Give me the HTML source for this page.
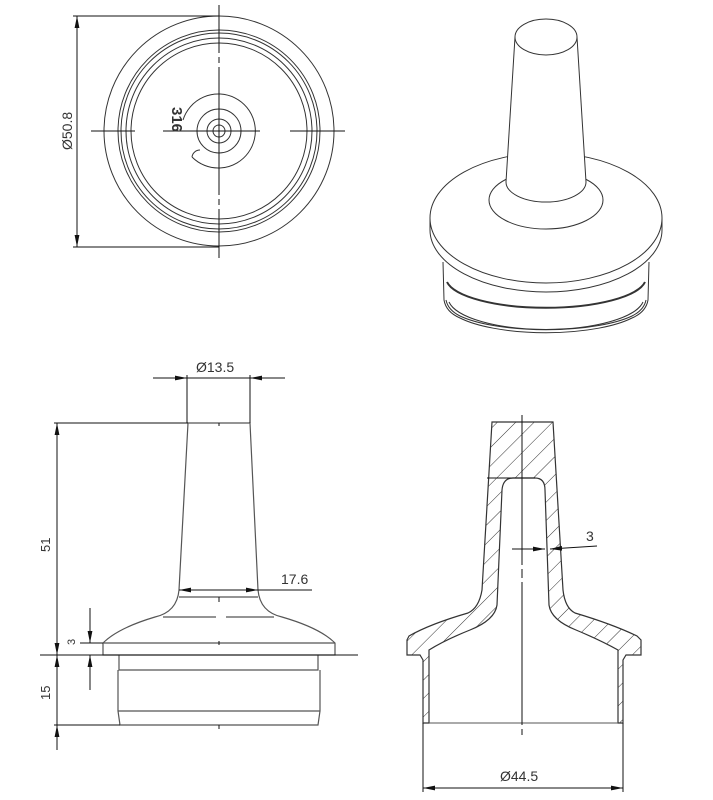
<!DOCTYPE html>
<html><head><meta charset="utf-8"><style>
html,body{margin:0;padding:0;background:#fff;}
svg{display:block;}
text{font-family:"Liberation Sans",sans-serif;fill:#333;}
</style></head><body>
<svg width="713" height="800" viewBox="0 0 713 800" xmlns="http://www.w3.org/2000/svg">
<defs>
<pattern id="h" patternUnits="userSpaceOnUse" width="13" height="13" patternTransform="rotate(45)">
<line x1="0" y1="0" x2="0" y2="13" stroke="#333" stroke-width="1"/>
</pattern>
<marker id="a" viewBox="0 0 10 4" refX="10" refY="2" markerWidth="12" markerHeight="5" orient="auto-start-reverse" markerUnits="userSpaceOnUse"><path d="M0,0 L10,2 L0,4Z" fill="#111"/></marker>
</defs>

<!-- TOP VIEW -->
<g fill="none" stroke="#333" stroke-width="1">
<circle cx="219" cy="131" r="115"/>
<circle cx="219" cy="131" r="101"/>
<circle cx="219" cy="131" r="98"/>
<circle cx="219" cy="131" r="93"/>
<circle cx="219" cy="131" r="88"/>
<path d="M183,120 A37,37 0 1 1 192,157"/>
<path d="M192,157 A8,8 0 0 1 200,150"/>
<circle cx="219" cy="131" r="22"/>
<circle cx="219" cy="131" r="12"/>
<circle cx="219" cy="131" r="6"/>
</g>
<g stroke="#111" stroke-width="1">
<line x1="91" y1="131" x2="135" y2="131"/>
<line x1="163" y1="131" x2="260" y2="131"/>
<line x1="290" y1="131" x2="345" y2="131"/>
<line x1="219" y1="5" x2="219" y2="53"/><line x1="219" y1="57" x2="219" y2="63"/>
<line x1="219" y1="67" x2="219" y2="195"/><line x1="219" y1="199" x2="219" y2="205"/>
<line x1="219" y1="209" x2="219" y2="258"/>
<line x1="73" y1="16" x2="219" y2="16"/>
<line x1="73" y1="247" x2="219" y2="247"/>
<line x1="77" y1="16" x2="77" y2="247" marker-start="url(#a)" marker-end="url(#a)"/>
</g>
<text x="0" y="0" font-size="14" transform="translate(72,150) rotate(-90)">Ø50.8</text>
<text x="0" y="0" font-size="15" font-weight="bold" transform="translate(172,107) rotate(90)">316</text>

<!-- 3D VIEW -->
<g fill="#fff" stroke="#333" stroke-width="1">
<path d="M443,262 L444,300 Q446,312 460,318 A100,30 0 0 0 632,318 Q646,312 648,300 L649,262"/>
<path d="M446,300 Q448,310 460,316 A100,28 0 0 0 632,316 Q644,310 646,300" fill="none"/>
<path d="M447,282 A100,30 0 0 0 645,282" fill="none" stroke-width="2"/>
<path d="M449,302 A98,32 0 0 0 643,302" fill="none"/>
<path d="M430,218 L430,230 A116,62 0 0 0 662,230 L662,218 Z"/>
<ellipse cx="546" cy="218" rx="116" ry="65"/>
<ellipse cx="546" cy="200" rx="57" ry="29"/>
<path d="M515,37 L506,182 A40,20 0 0 0 586,182 L577,37 Z"/>
<ellipse cx="546" cy="37" rx="31" ry="18"/>
</g>

<!-- SIDE VIEW -->
<g fill="none" stroke="#555" stroke-width="1.2">
<path d="M188,423 L250,423 L258,590 Q260,612 282,617 Q320,628 335,643 L335,655 L103,655 L103,643 Q118,628 155,617 Q177,612 179,590 Z"/>
<line x1="103" y1="643" x2="335" y2="643"/>
<line x1="163" y1="617" x2="216" y2="617"/><line x1="226" y1="617" x2="274" y2="617"/>
<line x1="179" y1="597" x2="258" y2="597"/>
<path d="M119,655 L119,670 L318,670 L318,655"/>
<path d="M118,670 L118,711 L120,725 L318,725 L320,711 L320,670"/>
<line x1="118" y1="711" x2="320" y2="711"/>
</g>
<g stroke="#111" stroke-width="1">
<line x1="153" y1="378" x2="187" y2="378" marker-end="url(#a)"/>
<line x1="285" y1="378" x2="250" y2="378" marker-end="url(#a)"/>
<line x1="187" y1="378" x2="250" y2="378"/>
<line x1="187" y1="375" x2="187" y2="423"/>
<line x1="250" y1="375" x2="250" y2="423"/>
<line x1="54" y1="423" x2="188" y2="423"/>
<line x1="57" y1="423" x2="57" y2="655" marker-start="url(#a)" marker-end="url(#a)"/>
<line x1="57" y1="655" x2="57" y2="725" marker-start="url(#a)"/>
<line x1="57" y1="725" x2="57" y2="750" />
<line x1="57" y1="740" x2="57" y2="725" marker-end="url(#a)"/>
<line x1="40" y1="655" x2="358" y2="655"/>
<line x1="54" y1="725" x2="120" y2="725"/>
<line x1="179" y1="590" x2="312" y2="590" marker-start="url(#a)"/>
<line x1="230" y1="590" x2="258" y2="590" marker-end="url(#a)"/>
<line x1="80" y1="643" x2="103" y2="643"/>
<line x1="90" y1="608" x2="90" y2="643" marker-end="url(#a)"/>
<line x1="90" y1="690" x2="90" y2="655" marker-end="url(#a)"/>
<line x1="219" y1="423" x2="219" y2="426"/>
<line x1="219" y1="597" x2="219" y2="602"/>
<line x1="219" y1="641" x2="219" y2="645"/>
<line x1="219" y1="725" x2="219" y2="729"/>
</g>
<text x="196" y="372" font-size="14">Ø13.5</text>
<text x="281" y="584" font-size="14">17.6</text>
<text x="0" y="0" font-size="13" transform="translate(50,552) rotate(-90)">51</text>
<text x="0" y="0" font-size="13" transform="translate(50,700) rotate(-90)">15</text>
<text x="0" y="0" font-size="11" transform="translate(75,645) rotate(-90)">3</text>

<!-- SECTION VIEW -->
<path fill="url(#h)" stroke="#333" stroke-width="1.2" fill-rule="evenodd"
d="M492,422 L482,590 Q479,608 468,613 Q430,624 409,636 L407,640 L407,655 L420,655 L423,660 L423,723 L429,723 L429,650 Q445,640 470,630 Q495,620 497,605 L502,490 Q503,478 513,478 L535,478 Q545,478 545,490 L549,605 Q551,620 576,630 Q600,640 618,650 L618,723 L623,723 L623,660 L626,655 L641,655 L641,640 L637,636 Q612,624 575,613 Q565,608 563,590 L553,422 Z"/>
<g stroke="#111" stroke-width="1">
<line x1="487" y1="478" x2="535" y2="478"/>
<line x1="429" y1="723" x2="618" y2="723" stroke="#555"/>
<line x1="522" y1="415" x2="522" y2="565"/><line x1="522" y1="569" x2="522" y2="578"/>
<line x1="522" y1="582" x2="522" y2="725"/><line x1="522" y1="729" x2="522" y2="735"/>
<line x1="512" y1="549" x2="545" y2="549" marker-end="url(#a)"/>
<line x1="597" y1="546" x2="550" y2="549" marker-end="url(#a)"/>
<line x1="423" y1="723" x2="423" y2="792"/>
<line x1="623" y1="723" x2="623" y2="792"/>
<line x1="423" y1="788" x2="623" y2="788" marker-start="url(#a)" marker-end="url(#a)"/>
</g>
<text x="586" y="541" font-size="14">3</text>
<text x="500" y="781" font-size="14">Ø44.5</text>
</svg>
</body></html>
